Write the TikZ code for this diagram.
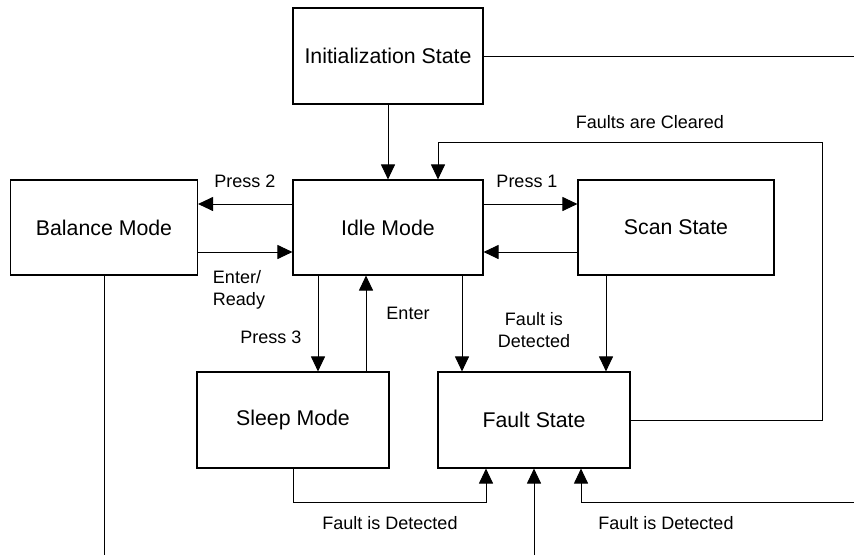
\documentclass[tikz,border=0pt]{standalone}
\usepackage{fontspec}
\setmainfont{Liberation Sans}
\usetikzlibrary{arrows.meta,calc}
\begin{document}
\begin{tikzpicture}[x=1pt,y=-1pt,
  box/.style={draw,line width=1.1pt,inner sep=0pt,font=\fontsize{21.3}{25}\selectfont},
  lbl/.style={font=\fontsize{18}{21.5}\selectfont,inner sep=0pt,align=center},
  conn/.style={line width=1pt},
  arr/.style={line width=1pt,-{Triangle[length=15pt,width=14pt]}}]
\useasboundingbox (0,0) rectangle (854,555);
\node[box,minimum width=190pt,minimum height=96pt] (init) at (388,56) {Initialization State};
\node[box,minimum width=190pt,minimum height=95pt] (idle) at (388,227.5) {Idle Mode};
\node[box,minimum width=187pt,minimum height=95pt] (bal) at (104,227.5) {Balance Mode};
\node[box,minimum width=196pt,minimum height=95pt] (scan) at (676,227.5) {Scan State};
\node[box,minimum width=192pt,minimum height=96pt] (sleep) at (293,420) {Sleep Mode};
\node[box,minimum width=192pt,minimum height=96pt] (fault) at (534,420) {Fault State};
\coordinate (e1) at (854,56);
\coordinate (fc) at (822,142);
\coordinate (sl) at (293,502);
\coordinate (bot) at (534,555);
\coordinate (rt) at (854,502);
\coordinate (bb) at (104,555);
% connectors
\draw[conn] (init.east) -- (e1);
\draw[arr] (init.south) -- (idle.north);
\draw[arr] (fault.east) -| (fc) -| ([xshift=50pt]idle.north);
\draw[arr] ([yshift=23.5pt]idle.west) -- ([yshift=23.5pt]bal.east);
\draw[arr] ([yshift=-24.5pt]bal.east) -- ([yshift=-24.5pt]idle.west);
\draw[arr] ([yshift=23.5pt]idle.east) -- ([yshift=23.5pt]scan.west);
\draw[arr] ([yshift=-24.5pt]scan.west) -- ([yshift=-24.5pt]idle.east);
\draw[arr] ([xshift=-70pt]idle.south) -- ([xshift=-70pt]idle.south |- sleep.north);
\draw[arr] ([xshift=73pt]sleep.north) -- ([xshift=73pt]sleep.north |- idle.south);
\draw[arr] ([xshift=74pt]idle.south) -- ([xshift=74pt]idle.south |- fault.north);
\draw[arr] ([xshift=-70pt]scan.south) -- ([xshift=-70pt]scan.south |- fault.north);
\draw[arr] (sleep.south) -- (sl) -| ([xshift=-48pt]fault.south);
\draw[arr] (bot) -- (fault.south);
\draw[arr] (rt) -| ([xshift=47pt]fault.south);
\draw[conn] (bal.south) -- (bb);
% labels
\node[lbl] (l1) at (650,122) {Faults are Cleared};
\node[lbl] (l2) at (245,181) {Press 2};
\node[lbl] (l3) at (527,181) {Press 1};
\node[lbl,align=left] (l4) at (239,290) {Enter/\\Ready};
\node[lbl] (l5) at (271,337) {Press 3};
\node[lbl] (l6) at (408,313) {Enter};
\node[lbl] (l7) at (534,330) {Fault is\\Detected};
\node[lbl] (l8) at (390,523) {Fault is Detected};
\node[lbl] (l9) at (666,523) {Fault is Detected};
\end{tikzpicture}
\end{document}
